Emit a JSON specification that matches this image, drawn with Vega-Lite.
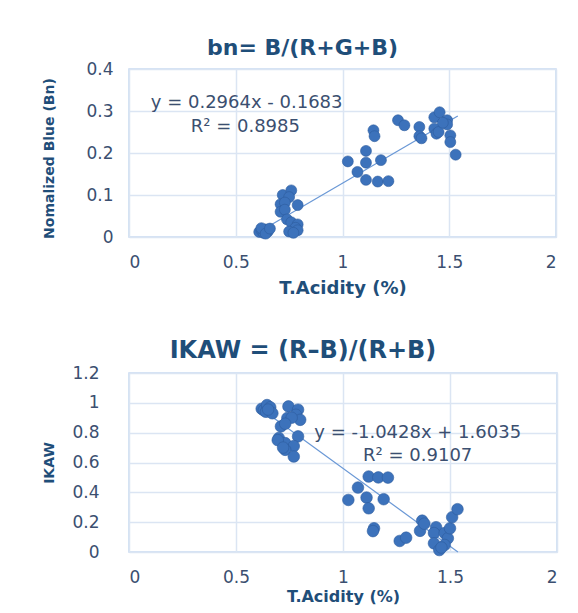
{
  "$schema": "https://vega.github.io/schema/vega-lite/v6.json",
  "padding": {"left": 41, "top": 36, "right": 5, "bottom": 0},
  "spacing": 40,
  "background": "white",
  "config": {
    "font": "DejaVu Sans",
    "view": {"stroke": "#c6d9f1", "strokeWidth": 1.5},
    "axis": {
      "grid": true, "gridColor": "#dbe5f3", "gridWidth": 1.5,
      "domain": false, "ticks": false, "labelOverlap": false,
      "labelColor": "#3b4f70", "labelFontSize": 17, "labelFont": "DejaVu Sans",
      "titleColor": "#1f4e79", "titleFontWeight": "bold", "titleFont": "DejaVu Sans"
    },
    "title": {"color": "#1f4e79", "font": "DejaVu Sans", "fontWeight": "bold", "anchor": "middle"}
  },
  "datasets": {
    "bn": [
      {"acidity": 0.61, "value": 0.012}, {"acidity": 0.62, "value": 0.016}, {"acidity": 0.63, "value": 0.010},
      {"acidity": 0.64, "value": 0.018}, {"acidity": 0.65, "value": 0.013}, {"acidity": 0.62, "value": 0.021},
      {"acidity": 0.64, "value": 0.008}, {"acidity": 0.66, "value": 0.02},
      {"acidity": 0.72, "value": 0.100}, {"acidity": 0.76, "value": 0.111}, {"acidity": 0.75, "value": 0.095},
      {"acidity": 0.71, "value": 0.078}, {"acidity": 0.73, "value": 0.082}, {"acidity": 0.79, "value": 0.076},
      {"acidity": 0.71, "value": 0.060}, {"acidity": 0.73, "value": 0.065}, {"acidity": 0.74, "value": 0.042},
      {"acidity": 0.76, "value": 0.035}, {"acidity": 0.79, "value": 0.030}, {"acidity": 0.78, "value": 0.022},
      {"acidity": 0.75, "value": 0.013}, {"acidity": 0.79, "value": 0.016}, {"acidity": 0.77, "value": 0.010},
      {"acidity": 1.025, "value": 0.180}, {"acidity": 1.11, "value": 0.205}, {"acidity": 1.11, "value": 0.177},
      {"acidity": 1.07, "value": 0.155}, {"acidity": 1.18, "value": 0.183}, {"acidity": 1.11, "value": 0.136},
      {"acidity": 1.165, "value": 0.132}, {"acidity": 1.215, "value": 0.133}, {"acidity": 1.145, "value": 0.254},
      {"acidity": 1.15, "value": 0.240},
      {"acidity": 1.26, "value": 0.278}, {"acidity": 1.29, "value": 0.266}, {"acidity": 1.36, "value": 0.262},
      {"acidity": 1.36, "value": 0.240}, {"acidity": 1.37, "value": 0.235}, {"acidity": 1.43, "value": 0.285},
      {"acidity": 1.455, "value": 0.297}, {"acidity": 1.43, "value": 0.258}, {"acidity": 1.44, "value": 0.246},
      {"acidity": 1.45, "value": 0.250}, {"acidity": 1.49, "value": 0.278}, {"acidity": 1.49, "value": 0.268},
      {"acidity": 1.505, "value": 0.242}, {"acidity": 1.505, "value": 0.226}, {"acidity": 1.53, "value": 0.196},
      {"acidity": 1.47, "value": 0.272}
    ],
    "bnTrend": [
      {"acidity": 0.62, "value": 0.0155}, {"acidity": 1.54, "value": 0.2882}
    ],
    "ikaw": [
      {"acidity": 0.62, "value": 0.96}, {"acidity": 0.63, "value": 0.95}, {"acidity": 0.645, "value": 0.985},
      {"acidity": 0.66, "value": 0.97}, {"acidity": 0.64, "value": 0.94}, {"acidity": 0.67, "value": 0.93},
      {"acidity": 0.65, "value": 0.955},
      {"acidity": 0.745, "value": 0.976}, {"acidity": 0.79, "value": 0.954}, {"acidity": 0.78, "value": 0.92},
      {"acidity": 0.80, "value": 0.886}, {"acidity": 0.74, "value": 0.898}, {"acidity": 0.76, "value": 0.90},
      {"acidity": 0.71, "value": 0.842}, {"acidity": 0.73, "value": 0.86}, {"acidity": 0.70, "value": 0.764},
      {"acidity": 0.73, "value": 0.73}, {"acidity": 0.79, "value": 0.775}, {"acidity": 0.77, "value": 0.71},
      {"acidity": 0.73, "value": 0.685}, {"acidity": 0.77, "value": 0.64}, {"acidity": 0.695, "value": 0.75},
      {"acidity": 0.72, "value": 0.70},
      {"acidity": 1.12, "value": 0.506}, {"acidity": 1.165, "value": 0.50}, {"acidity": 1.21, "value": 0.499},
      {"acidity": 1.07, "value": 0.432}, {"acidity": 1.025, "value": 0.349}, {"acidity": 1.11, "value": 0.365},
      {"acidity": 1.19, "value": 0.354}, {"acidity": 1.12, "value": 0.293}, {"acidity": 1.145, "value": 0.159},
      {"acidity": 1.14, "value": 0.14},
      {"acidity": 1.265, "value": 0.074}, {"acidity": 1.295, "value": 0.096}, {"acidity": 1.37, "value": 0.21},
      {"acidity": 1.36, "value": 0.142}, {"acidity": 1.435, "value": 0.166}, {"acidity": 1.425, "value": 0.127},
      {"acidity": 1.475, "value": 0.127}, {"acidity": 1.49, "value": 0.092}, {"acidity": 1.425, "value": 0.058},
      {"acidity": 1.45, "value": 0.013}, {"acidity": 1.475, "value": 0.047}, {"acidity": 1.50, "value": 0.159},
      {"acidity": 1.51, "value": 0.233}, {"acidity": 1.535, "value": 0.287}, {"acidity": 1.38, "value": 0.19},
      {"acidity": 1.46, "value": 0.03}
    ],
    "ikawTrend": [
      {"acidity": 0.62, "value": 0.957}, {"acidity": 1.537, "value": 0.0007}
    ]
  },
  "vconcat": [
    {
      "width": 427,
      "height": 168,
      "title": {"text": "bn= B/(R+G+B)", "fontSize": 22, "dx": -40, "offset": 0},
      "layer": [
        {
          "data": {"name": "bnTrend"},
          "mark": {"type": "line", "color": "#6a98d6", "strokeWidth": 1.2},
          "encoding": {
            "x": {"field": "acidity", "type": "quantitative",
                  "scale": {"domain": [0, 2], "nice": false},
                  "axis": {"values": [0, 0.5, 1, 1.5, 2], "tickCount": 5, "format": "~g", "title": "T.Acidity (%)", "titleFontSize": 18, "labelPadding": 17, "titlePadding": 9}},
            "y": {"field": "value", "type": "quantitative",
                  "scale": {"domain": [0, 0.4], "nice": false},
                  "axis": {"values": [0, 0.1, 0.2, 0.3, 0.4], "tickCount": 5, "format": "~g", "title": "Nomalized Blue (Bn)", "titleFontSize": 14, "labelPadding": 16, "titleX": -80, "titleY": 89, "titleBaseline": "middle"}}
          }
        },
        {
          "data": {"name": "bn"},
          "mark": {"type": "point", "filled": true, "size": 120, "opacity": 1, "color": "#3c72bb", "stroke": "#2d5c9e", "strokeWidth": 0.6},
          "encoding": {
            "x": {"field": "acidity", "type": "quantitative"},
            "y": {"field": "value", "type": "quantitative"}
          }
        },
        {
          "data": {"values": [{}]},
          "mark": {"type": "text", "fontSize": 18, "color": "#3b4f70", "align": "center", "baseline": "middle"},
          "encoding": {"x": {"datum": 0.551}, "y": {"datum": 0.32}, "text": {"value": "y = 0.2964x - 0.1683"}}
        },
        {
          "data": {"values": [{}]},
          "mark": {"type": "text", "fontSize": 18, "color": "#3b4f70", "align": "center", "baseline": "middle"},
          "encoding": {"x": {"datum": 0.545}, "y": {"datum": 0.263}, "text": {"value": "R² = 0.8985"}}
        }
      ]
    },
    {
      "width": 428,
      "height": 179,
      "title": {"text": "IKAW = (R–B)/(R+B)", "fontSize": 24, "dx": -40, "offset": 1},
      "layer": [
        {
          "data": {"name": "ikawTrend"},
          "mark": {"type": "line", "color": "#6a98d6", "strokeWidth": 1.2},
          "encoding": {
            "x": {"field": "acidity", "type": "quantitative",
                  "scale": {"domain": [0, 2], "nice": false},
                  "axis": {"values": [0, 0.5, 1, 1.5, 2], "tickCount": 5, "format": "~g", "title": "T.Acidity (%)", "titleFontSize": 16, "labelPadding": 17, "titlePadding": 3}},
            "y": {"field": "value", "type": "quantitative",
                  "scale": {"domain": [0, 1.2], "nice": false},
                  "axis": {"values": [0, 0.2, 0.4, 0.6, 0.8, 1, 1.2], "tickCount": 7, "format": "~g", "title": "IKAW", "titleFontSize": 14, "labelPadding": 30, "titleX": -80, "titleBaseline": "middle"}}
          }
        },
        {
          "data": {"name": "ikaw"},
          "mark": {"type": "point", "filled": true, "size": 135, "opacity": 1, "color": "#3c72bb", "stroke": "#2d5c9e", "strokeWidth": 0.6},
          "encoding": {
            "x": {"field": "acidity", "type": "quantitative"},
            "y": {"field": "value", "type": "quantitative"}
          }
        },
        {
          "data": {"values": [{}]},
          "mark": {"type": "text", "fontSize": 18, "color": "#3b4f70", "align": "center", "baseline": "middle"},
          "encoding": {"x": {"datum": 1.349}, "y": {"datum": 0.797}, "text": {"value": "y = -1.0428x + 1.6035"}}
        },
        {
          "data": {"values": [{}]},
          "mark": {"type": "text", "fontSize": 18, "color": "#3b4f70", "align": "center", "baseline": "middle"},
          "encoding": {"x": {"datum": 1.349}, "y": {"datum": 0.645}, "text": {"value": "R² = 0.9107"}}
        }
      ]
    }
  ]
}
